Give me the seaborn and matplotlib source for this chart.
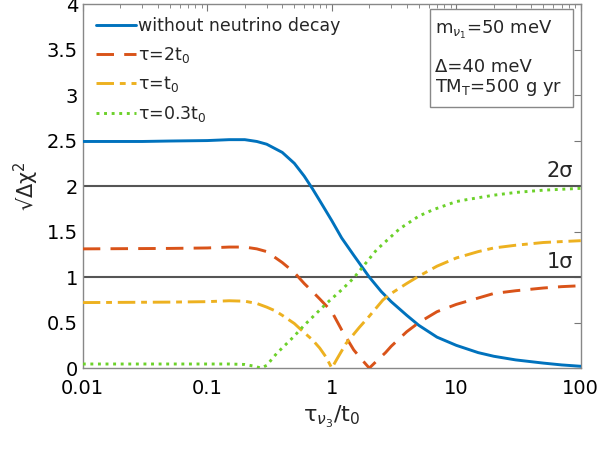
import numpy as np
import pandas as pd
import matplotlib
matplotlib.use("Agg")
import matplotlib.pyplot as plt
import seaborn as sns
from matplotlib.patches import Rectangle
from matplotlib.ticker import FormatStrFormatter, LogLocator, NullFormatter

# --- DATA ---
x_blue = [0.01, 0.03, 0.05, 0.1, 0.15, 0.2, 0.25, 0.3, 0.4, 0.5, 0.6, 0.7, 0.8, 1.0,
          1.2, 1.5, 2.0, 2.5, 3, 4, 5, 7, 10, 15, 20, 30, 50, 70, 100]
y_blue = [2.49, 2.49, 2.495, 2.5, 2.51, 2.51, 2.49, 2.46, 2.37, 2.25, 2.11, 1.97, 1.84, 1.62,
          1.43, 1.24, 1.0, 0.84, 0.73, 0.58, 0.47, 0.34, 0.25, 0.17, 0.13, 0.09, 0.055, 0.035, 0.02]

x_red = [0.01, 0.05, 0.1, 0.15, 0.2, 0.25, 0.3, 0.4, 0.5, 0.6, 0.7, 0.8, 1.0, 1.2, 1.5,
         1.7, 2.0, 2.3, 2.7, 3, 4, 5, 7, 10, 15, 20, 30, 50, 70, 100]
y_red = [1.31, 1.315, 1.32, 1.33, 1.33, 1.31, 1.28, 1.16, 1.05, 0.93, 0.84, 0.76, 0.62, 0.42, 0.2,
         0.11, 0.0, 0.08, 0.17, 0.24, 0.4, 0.5, 0.62, 0.7, 0.77, 0.82, 0.85, 0.88, 0.895, 0.905]

x_yel = [0.01, 0.05, 0.1, 0.15, 0.2, 0.25, 0.3, 0.35, 0.4, 0.5, 0.6, 0.7, 0.8, 0.9, 1.0,
         1.1, 1.3, 1.67, 2, 2.58, 3, 4, 5, 7, 10, 15, 20, 30, 50, 70, 100]
y_yel = [0.72, 0.725, 0.73, 0.74, 0.735, 0.71, 0.67, 0.63, 0.58, 0.49, 0.39, 0.31, 0.22, 0.12, 0.0,
         0.1, 0.27, 0.45, 0.57, 0.75, 0.82, 0.93, 1.01, 1.12, 1.21, 1.28, 1.32, 1.35, 1.38, 1.39, 1.4]

x_grn = [0.01, 0.05, 0.1, 0.15, 0.2, 0.24, 0.27, 0.3, 0.36, 0.49, 0.6, 0.7, 0.905, 1.2, 1.5,
         2.29, 3.5, 5, 6.5, 10, 12, 20, 30, 50, 100]
y_grn = [0.045, 0.045, 0.045, 0.045, 0.04, 0.02, 0.0, 0.03, 0.16, 0.34, 0.47, 0.56, 0.71, 0.86, 0.99,
         1.3, 1.53, 1.67, 1.74, 1.83, 1.85, 1.9, 1.93, 1.955, 1.975]

labels = ["without neutrino decay", r"τ=2t$_0$", r"τ=t$_0$", r"τ=0.3t$_0$"]
colors = ["#0072BD", "#D95319", "#EDB120", "#6CD12A"]
sigma_levels = [2, 1]
sigma_labels = ["2σ", "1σ"]
box_lines = ["m$_{ν_1}$=50 meV", "Δ=40 meV", "TM$_\\mathrm{T}$=500 g yr"]

sns.set_style("white")
plt.rcParams["font.family"] = ["DejaVu Sans"]
plt.rcParams["mathtext.fontset"] = "dejavusans"

fig = plt.figure(figsize=(6, 4.5), dpi=100)
ax = fig.add_axes([0.138, 0.182, 0.83, 0.809])

for lvl in sigma_levels:
    ax.axhline(lvl, color="#555555", lw=1.5, zorder=1)

series = [(x_blue, y_blue), (x_red, y_red), (x_yel, y_yel), (x_grn, y_grn)]
styles = [(None, "-"), ((6, 3.5), "--"), ((6, 2, 2, 2), "-."), ((1, 1.6), ":")]
for (xs, ys), lab, col, (dash, ls) in zip(series, labels, colors, styles):
    df = pd.DataFrame({"x": xs, "y": ys})
    sns.lineplot(data=df, x="x", y="y", ax=ax, color=col, lw=2.1, label=lab,
                 linestyle=ls, zorder=3)
    if dash is not None:
        ax.lines[-1].set_dashes(dash)

ax.set_xscale("log")
ax.set_xlim(0.01, 100)
ax.set_ylim(0, 4)
ax.set_yticks(np.arange(0, 4.01, 0.5))
ax.yaxis.set_major_formatter(FormatStrFormatter("%g"))
ax.xaxis.set_major_formatter(FormatStrFormatter("%g"))
ax.xaxis.set_minor_locator(LogLocator(base=10, subs=np.arange(2, 10)))
ax.xaxis.set_minor_formatter(NullFormatter())
ax.tick_params(which="both", direction="in", top=True, right=True, colors="#777777",
               labelcolor="black", labelsize=14)
ax.tick_params(axis="x", which="major", pad=8)
ax.tick_params(which="major", length=5)
ax.tick_params(which="minor", length=3)
for sp in ax.spines.values():
    sp.set_color("#888888")
    sp.set_linewidth(1)

ax.set_xlabel(r"τ$_{ν_3}$/t$_0$", fontsize=16, labelpad=4)
ax.set_ylabel("√Δχ$^2$", fontsize=15, labelpad=4)

ax.legend(loc="upper left", frameon=False, fontsize=12.5, handlelength=2.3,
          handletextpad=0.15, labelspacing=0.55, borderaxespad=0.35,
          bbox_to_anchor=(0.0, 1.0))

for lvl, lab in zip(sigma_levels, sigma_labels):
    ax.text(0.985, lvl + 0.06, lab, transform=ax.get_yaxis_transform(), ha="right",
            va="bottom", fontsize=15)

# parameter box
ax.add_patch(Rectangle((0.697, 0.717), 0.287, 0.269, transform=ax.transAxes,
                       fc="white", ec="#888888", lw=1, zorder=5))
for ypos, txt in zip([0.918, 0.812, 0.758], box_lines):
    ax.text(0.708, ypos, txt, transform=ax.transAxes, ha="left", va="baseline",
            fontsize=13, zorder=6)

fig.savefig("out.png", dpi=100)
